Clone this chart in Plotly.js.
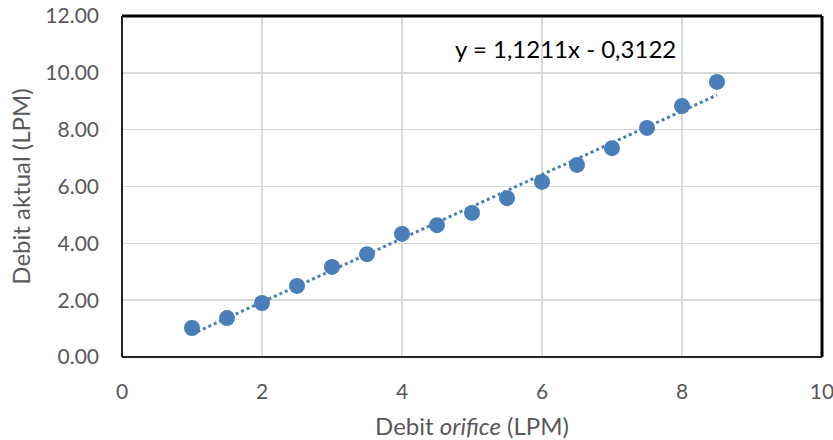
<!DOCTYPE html>
<html>
<head>
<meta charset="utf-8">
<script src="https://cdn.plot.ly/plotly-3.0.1.min.js"></script>
<style>html,body{margin:0;padding:0;background:#fff;}#chart{width:833px;height:440px;}</style>
</head>
<body>
<div id="chart"></div>
<script>
const debitOrifice = [1, 1.5, 2, 2.5, 3, 3.5, 4, 4.5, 5, 5.5, 6, 6.5, 7, 7.5, 8, 8.5];
const debitAktual = [1.02, 1.37, 1.90, 2.50, 3.17, 3.62, 4.33, 4.64, 5.07, 5.59, 6.16, 6.76, 7.35, 8.06, 8.83, 9.68];
const trendSlope = 1.1211;
const trendIntercept = -0.3122;
const equationText = "y = 1,1211x - 0,3122";
const xTickVals = [0, 2, 4, 6, 8, 10];
const yTickVals = [0, 2, 4, 6, 8, 10, 12];
const yTickText = ["0.00", "2.00", "4.00", "6.00", "8.00", "10.00", "12.00"];

const xMin = Math.min(...debitOrifice), xMax = Math.max(...debitOrifice);
const trendX = [xMin, xMax];
const trendY = trendX.map(x => trendSlope * x + trendIntercept);

const font = "Lato, 'Open Sans', sans-serif";
const traces = [
  {x: trendX, y: trendY, mode: 'lines', type: 'scatter',
   line: {color: '#4a7ebb', width: 3, dash: 'dot'}, hoverinfo: 'skip'},
  {x: debitOrifice, y: debitAktual, mode: 'markers', type: 'scatter',
   marker: {color: '#4a7ebb', size: 16}}
];
const layout = {
  width: 833, height: 440,
  margin: {l: 122, r: 11, t: 16, b: 83},
  paper_bgcolor: '#fff', plot_bgcolor: '#fff',
  showlegend: false,
  font: {family: font, color: '#595959', size: 16},
  xaxis: {range: [0, 10], tickvals: xTickVals, showgrid: true, gridcolor: '#d9d9d9', gridwidth: 1.5,
    zeroline: false, showline: false, ticks: '', ticklabelstandoff: 20, automargin: false,
    ticklabeloverflow: 'allow',
    tickfont: {size: 21, color: '#595959'},
    title: {text: 'Debit <i>orifice</i> (LPM)', font: {size: 24, color: '#595959'}, standoff: 16}},
  yaxis: {range: [0, 12], tickvals: yTickVals, ticktext: yTickText, showgrid: true, gridcolor: '#d9d9d9', gridwidth: 1.5,
    zeroline: false, showline: false, ticks: '', ticklabelstandoff: 22, automargin: false,
    ticklabeloverflow: 'allow',
    tickfont: {size: 21, color: '#595959'},
    title: {text: 'Debit aktual (LPM)', font: {size: 24, color: '#595959'}, standoff: 7}},
  shapes: [
    {type: 'line', xref: 'paper', yref: 'paper', x0: 0, x1: 1, y0: 1, y1: 1, line: {color: '#000', width: 3}},
    {type: 'line', xref: 'paper', yref: 'paper', x0: 1, x1: 1, y0: 0, y1: 1, line: {color: '#000', width: 3}},
    {type: 'line', xref: 'paper', yref: 'paper', x0: 0, x1: 0, y0: 0, y1: 1, line: {color: '#222', width: 2}},
    {type: 'line', xref: 'paper', yref: 'paper', x0: 0, x1: 1, y0: 0, y1: 0, line: {color: '#222', width: 2}}
  ],
  annotations: [
    {text: equationText, xref: 'paper', yref: 'paper', x: 0.634, y: 0.905, xanchor: 'center', yanchor: 'middle',
     showarrow: false, font: {size: 24, color: '#000', family: font}}
  ]
};
Plotly.newPlot('chart', traces, layout, {displayModeBar: false, staticPlot: true});
</script>
</body>
</html>
